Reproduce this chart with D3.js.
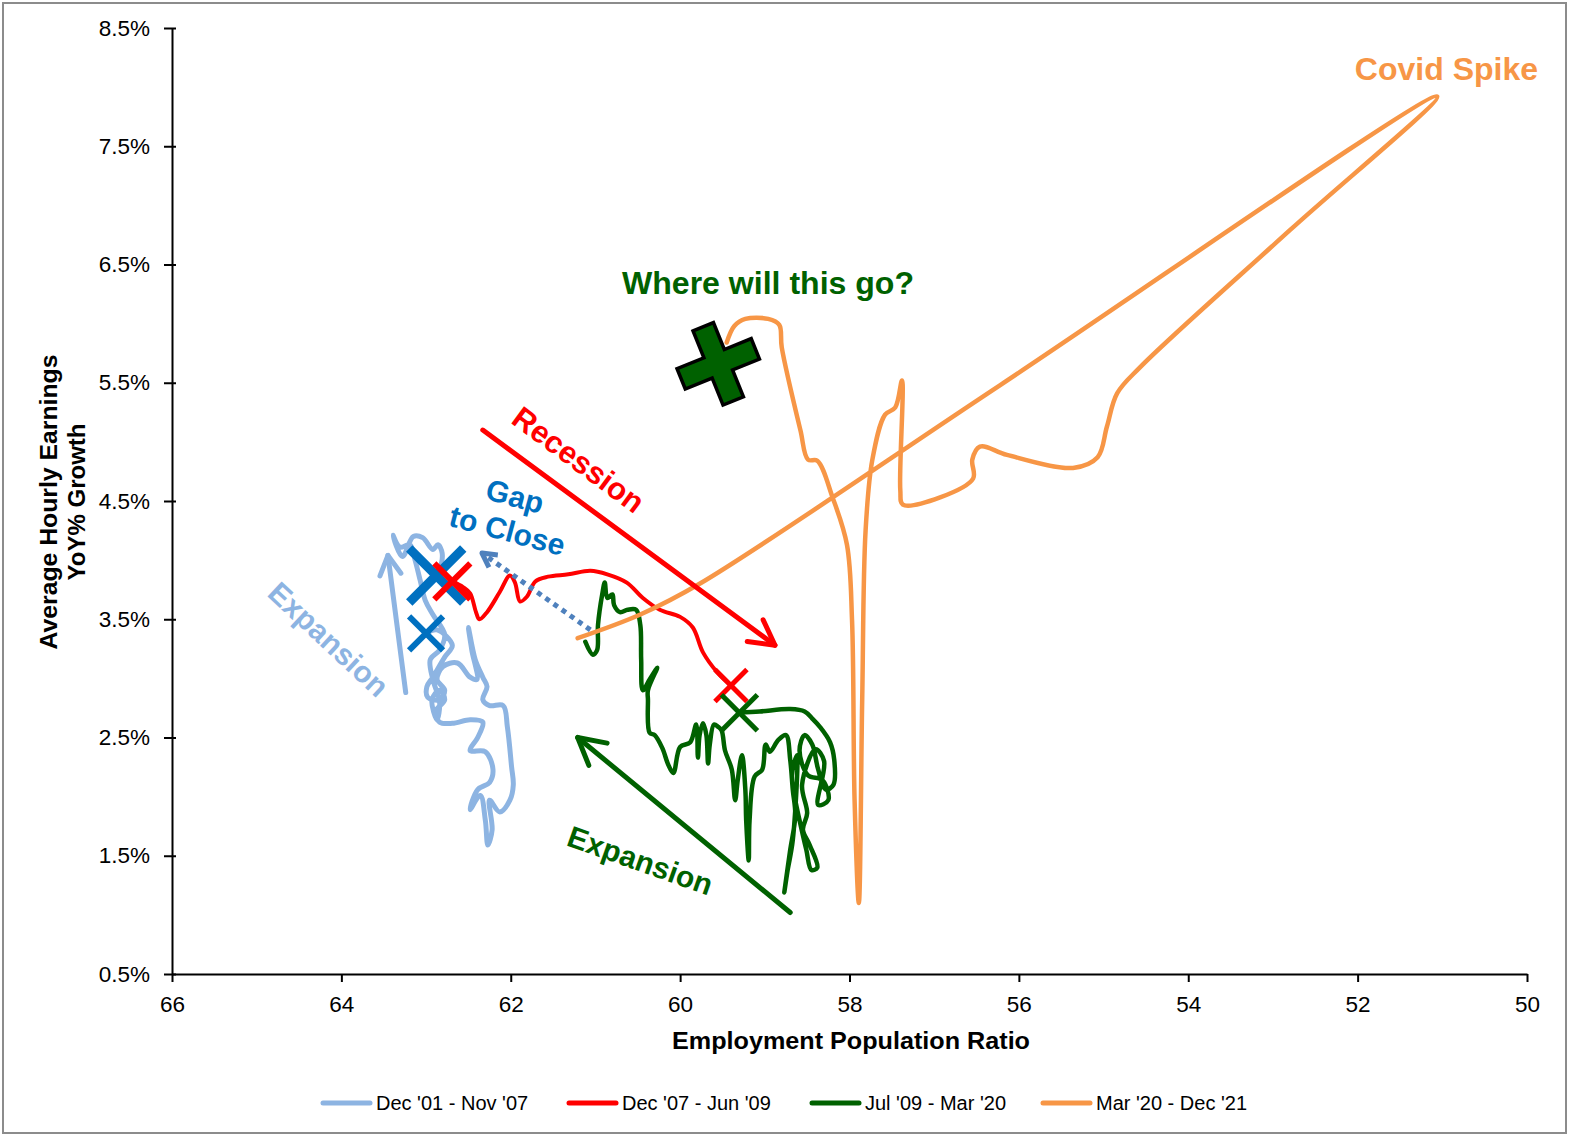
<!DOCTYPE html>
<html>
<head>
<meta charset="utf-8">
<script src="https://cdn.jsdelivr.net/npm/d3@7"></script>
<style>
  body { margin: 0; background: #fff; }
  svg { display: block; font-family: "Liberation Sans", Arial, sans-serif; }
</style>
</head>
<body>
<svg id="chart" width="1571" height="1137"></svg>
<script>
// axis ticks
var xTicks = [66, 64, 62, 60, 58, 56, 54, 52, 50];
var yTicks = [0.5, 1.5, 2.5, 3.5, 4.5, 5.5, 6.5, 7.5, 8.5];

// legend
var seriesNames = ["Dec '01 - Nov '07", "Dec '07 - Jun '09", "Jul '09 - Mar '20", "Mar '20 - Dec '21"];
var seriesColors = ["#8DB4E2", "#FF0000", "#006100", "#F79646"];

// [employment population ratio, AHE yoy %]
var blue = [
  [63.00, 3.38], [62.87, 3.41], [62.69, 3.28], [62.78, 3.18], [62.92, 3.01], [62.99, 2.93],
  [62.98, 2.84], [62.84, 2.82], [62.78, 2.90], [62.87, 2.99], [62.80, 3.10], [62.63, 3.13],
  [62.48, 3.01], [62.40, 2.99], [62.46, 3.24], [62.50, 3.43], [62.42, 3.16], [62.33, 3.01],
  [62.28, 2.93], [62.33, 2.82], [62.25, 2.77], [62.09, 2.77], [62.04, 2.59], [61.99, 2.25],
  [61.97, 2.10], [62.01, 1.97], [62.13, 1.87], [62.25, 1.97], [62.22, 1.72], [62.27, 1.59],
  [62.30, 1.80], [62.36, 2.01], [62.48, 1.89], [62.39, 2.06], [62.25, 2.12], [62.21, 2.23],
  [62.30, 2.38], [62.48, 2.39], [62.39, 2.50], [62.33, 2.63], [62.48, 2.65], [62.69, 2.62],
  [62.84, 2.63], [62.89, 2.72], [62.78, 2.82], [62.84, 2.90], [62.93, 2.82], [62.87, 2.65],
  [62.84, 2.80], [62.92, 2.99], [62.95, 3.16], [62.84, 3.24], [62.78, 3.37], [62.92, 3.54],
  [63.01, 3.66], [63.07, 3.83], [63.13, 4.00], [63.19, 4.13], [63.31, 4.11], [63.39, 4.21],
  [63.28, 4.03], [63.15, 4.20], [63.04, 4.19], [62.92, 4.09], [62.86, 4.13], [62.81, 4.06],
  [62.84, 3.92], [62.88, 3.87]
];

var red = [
  [62.69, 3.82], [62.56, 3.77], [62.48, 3.72], [62.41, 3.56], [62.37, 3.50], [62.28, 3.56],
  [62.13, 3.73], [62.01, 3.87], [61.95, 3.81], [61.89, 3.65], [61.81, 3.69], [61.71, 3.82],
  [61.56, 3.86], [61.32, 3.88], [61.06, 3.91], [60.86, 3.88], [60.63, 3.81], [60.44, 3.68],
  [60.24, 3.58], [60.00, 3.52], [59.85, 3.43], [59.73, 3.22], [59.56, 3.05], [59.40, 2.94]
];

var green = [
  [59.30, 2.71], [59.06, 2.72], [58.70, 2.74], [58.53, 2.72], [58.44, 2.66], [58.35, 2.59],
  [58.23, 2.46], [58.18, 2.31], [58.19, 2.10], [58.28, 2.06], [58.37, 2.23], [58.44, 2.44],
  [58.53, 2.52], [58.59, 2.39], [58.49, 2.18], [58.32, 2.14], [58.25, 1.97], [58.37, 1.93],
  [58.30, 2.30], [58.40, 2.40], [58.56, 2.10],
  [58.50, 1.86], [58.55, 1.72], [58.47, 1.59], [58.38, 1.40], [58.45, 1.38], [58.51, 1.55],
  [58.59, 1.80], [58.64, 1.97], [58.68, 2.18], [58.62, 2.35], [58.67, 1.63], [58.73, 1.38],
  [58.77, 1.19], [58.70, 1.55], [58.64, 1.84], [58.67, 2.06], [58.70, 2.31], [58.75, 2.52],
  [58.84, 2.48], [58.94, 2.38], [58.99, 2.44], [59.03, 2.23], [59.12, 2.17], [59.18, 1.80],
  [59.19, 1.46], [59.22, 1.80], [59.23, 2.06], [59.27, 2.35], [59.32, 2.14], [59.35, 1.97],
  [59.39, 2.23], [59.47, 2.39], [59.51, 2.56], [59.55, 2.59], [59.60, 2.61], [59.65, 2.44],
  [59.67, 2.28], [59.69, 2.52], [59.73, 2.62], [59.77, 2.52], [59.79, 2.33], [59.81, 2.61],
  [59.88, 2.46], [60.00, 2.42], [60.08, 2.20], [60.14, 2.27], [60.21, 2.41], [60.30, 2.52],
  [60.36, 2.54], [60.38, 2.82], [60.38, 2.90], [60.27, 3.09], [60.36, 2.99], [60.44, 2.90],
  [60.46, 3.16], [60.47, 3.45], [60.52, 3.58], [60.62, 3.58], [60.71, 3.56], [60.78, 3.62],
  [60.80, 3.71], [60.86, 3.68], [60.89, 3.81], [60.92, 3.71], [60.97, 3.45], [60.98, 3.24],
  [61.03, 3.20], [61.12, 3.31]
];

var orange = [
  [61.21, 3.34], [60.47, 3.54], [59.77, 3.80], [56.22, 5.48], [51.06, 7.92], [52.80, 6.79],
  [54.57, 5.63], [54.84, 5.41], [54.96, 5.13], [55.07, 4.87], [55.36, 4.78], [56.14, 4.89],
  [56.46, 4.96], [56.55, 4.85], [56.54, 4.69], [56.93, 4.53], [57.37, 4.47], [57.40, 4.59],
  [57.38, 5.52], [57.46, 5.29], [57.58, 5.23], [57.73, 4.85], [57.81, 4.25], [57.85, 2.82],
  [57.89, 1.10], [57.94, 1.97], [57.97, 3.49], [58.03, 4.13], [58.20, 4.53], [58.38, 4.84],
  [58.49, 4.85], [58.58, 5.10], [58.80, 5.80], [58.83, 5.99], [58.96, 6.04], [59.23, 6.04],
  [59.36, 5.98], [59.45, 5.84]
];

var seriesData = [blue, red, green, orange];

var svg = d3.select("#chart");
var x = d3.scaleLinear().domain([66, 50]).range([172, 1527]);
var y = d3.scaleLinear().domain([0.5, 8.5]).range([974, 28]);

// outer frame
svg.append("rect").attr("x", 3).attr("y", 3).attr("width", 1563).attr("height", 1130)
  .attr("fill", "none").attr("stroke", "#8c8c8c").attr("stroke-width", 2);

// axes
var xAxis = svg.append("g").attr("transform", "translate(0,974)")
  .call(d3.axisBottom(x).tickValues(xTicks).tickSize(8).tickSizeOuter(0).tickPadding(14)
    .tickFormat(d3.format("d")));
var yAxis = svg.append("g").attr("transform", "translate(172,0)")
  .call(d3.axisLeft(y).tickValues(yTicks).tickSize(8).tickSizeOuter(0).tickPadding(14)
    .tickFormat(function(d) { return d.toFixed(1) + "%"; }));
[xAxis, yAxis].forEach(function(a) {
  a.select(".domain").attr("stroke", "#000").attr("stroke-width", 2);
  a.selectAll(".tick line").attr("stroke", "#000").attr("stroke-width", 2);
  a.selectAll(".tick text").attr("fill", "#000").attr("font-size", 22.5)
    .attr("font-family", "Liberation Sans, Arial, sans-serif");
});
yAxis.selectAll(".tick line").attr("x2", -8).attr("x1", 4);

// axis titles
svg.append("text").attr("x", 851).attr("y", 1049).attr("text-anchor", "middle")
  .attr("font-size", 24).attr("font-weight", "bold")
  .attr("textLength", 358).attr("lengthAdjust", "spacingAndGlyphs")
  .text("Employment  Population Ratio");
var yt = svg.append("g").attr("transform", "translate(0,502) rotate(-90)");
yt.append("text").attr("x", 0).attr("y", 57).attr("text-anchor", "middle")
  .attr("font-size", 24).attr("font-weight", "bold")
  .attr("textLength", 295).attr("lengthAdjust", "spacingAndGlyphs").text("Average Hourly Earnings");
yt.append("text").attr("x", 0).attr("y", 85).attr("text-anchor", "middle")
  .attr("font-size", 24).attr("font-weight", "bold").text("YoY% Growth");

// series
var line = d3.line().x(function(d) { return x(d[0]); }).y(function(d) { return y(d[1]); })
  .curve(d3.curveCatmullRom.alpha(0.5));
var widths = [5, 4, 4.5, 4.5];
seriesData.forEach(function(s, i) {
  svg.append("path").datum(s).attr("d", line).attr("fill", "none")
    .attr("stroke", seriesColors[i]).attr("stroke-width", widths[i])
    .attr("stroke-linejoin", "round").attr("stroke-linecap", "round");
});

// annotation helpers
function cross(p, r, w, color) {
  var cx = x(p[0]), cy = y(p[1]);
  var g = svg.append("g").attr("stroke", color).attr("stroke-width", w);
  g.append("line").attr("x1", cx - r).attr("y1", cy - r).attr("x2", cx + r).attr("y2", cy + r);
  g.append("line").attr("x1", cx - r).attr("y1", cy + r).attr("x2", cx + r).attr("y2", cy - r);
}

function arrow(from, to, color, w, head, dash) {
  var x0 = x(from[0]), y0 = y(from[1]), x1 = x(to[0]), y1 = y(to[1]);
  var g = svg.append("g").attr("stroke", color).attr("stroke-width", w).attr("fill", "none")
    .attr("stroke-linecap", dash ? "butt" : "round").attr("stroke-linejoin", "round");
  var l = g.append("line").attr("x1", x0).attr("y1", y0).attr("x2", x1).attr("y2", y1);
  if (dash) l.attr("stroke-dasharray", dash);
  var a = Math.atan2(y1 - y0, x1 - x0);
  var p1 = [x1 - head * Math.cos(a - 0.5), y1 - head * Math.sin(a - 0.5)];
  var p2 = [x1 - head * Math.cos(a + 0.5), y1 - head * Math.sin(a + 0.5)];
  g.append("path").attr("d", "M" + p1 + "L" + x1 + "," + y1 + "L" + p2);
}

function label(p, txt, color, size, angle, weight) {
  svg.append("text")
    .attr("transform", "translate(" + x(p[0]) + "," + y(p[1]) + ") rotate(" + angle + ")")
    .attr("text-anchor", "middle").attr("dy", "0.35em")
    .attr("fill", color).attr("font-size", size).attr("font-weight", weight || "bold").text(txt);
}

// arrows
arrow([62.33, 5.10], [58.88, 3.28], "#FF0000", 5, 28);
arrow([61.06, 3.41], [62.34, 4.06], "#4F81BD", 5, 16, "5 5");
arrow([63.24, 2.88], [63.45, 4.04], "#8DB4E2", 5, 22);
arrow([58.70, 1.02], [61.21, 2.50], "#006100", 5, 30);

// start / end markers
cross(blue[blue.length - 1], 27, 9, "#0070C0");
cross(blue[0], 17, 6, "#0070C0");
cross(red[0], 18, 6, "#FF0000");
cross(red[red.length - 1], 16, 5, "#FF0000");
cross(green[0], 18, 5, "#006100");

// "where will this go" plus marker
var plusPos = [59.55, 5.66];
var a = 40, b = 11;
svg.append("path")
  .attr("transform", "translate(" + x(plusPos[0]) + "," + y(plusPos[1]) + ") rotate(-22)")
  .attr("d", "M" + [-b, -a] + "L" + [b, -a] + "L" + [b, -b] + "L" + [a, -b] + "L" + [a, b] +
    "L" + [b, b] + "L" + [b, a] + "L" + [-b, a] + "L" + [-b, b] + "L" + [-a, b] +
    "L" + [-a, -b] + "L" + [-b, -b] + "Z")
  .attr("fill", "#006100").attr("stroke", "#000").attr("stroke-width", 3.5);

// text annotations
label([61.20, 4.85], "Recession", "#FF0000", 31, 36.5);
label([61.95, 4.54], "Gap", "#0070C0", 30, 15);
label([62.04, 4.25], "to Close", "#0070C0", 30, 15);
label([64.15, 3.33], "Expansion", "#8DB4E2", 30, 43);
label([60.47, 1.46], "Expansion", "#006100", 30, 19.5);

svg.append("text").attr("x", 768).attr("y", 294).attr("text-anchor", "middle")
  .attr("font-size", 31).attr("font-weight", "bold").attr("fill", "#006100")
  .attr("textLength", 292).attr("lengthAdjust", "spacingAndGlyphs").text("Where will this go?");
svg.append("text").attr("x", 1538).attr("y", 80).attr("text-anchor", "end")
  .attr("font-size", 32).attr("font-weight", "bold").attr("fill", "#F79646")
  .text("Covid Spike");

// legend
var legendX = [323, 569, 812, 1043];
var leg = svg.append("g").attr("transform", "translate(0,1103)");
seriesNames.forEach(function(n, i) {
  leg.append("line").attr("x1", legendX[i]).attr("x2", legendX[i] + 47)
    .attr("stroke", seriesColors[i]).attr("stroke-width", 5).attr("stroke-linecap", "round");
  leg.append("text").attr("x", legendX[i] + 53).attr("y", 7)
    .attr("font-family", "Liberation Sans Narrow, Arial Narrow, sans-serif")
    .attr("font-size", 20).attr("fill", "#000").text(n);
});
</script>
</body>
</html>
